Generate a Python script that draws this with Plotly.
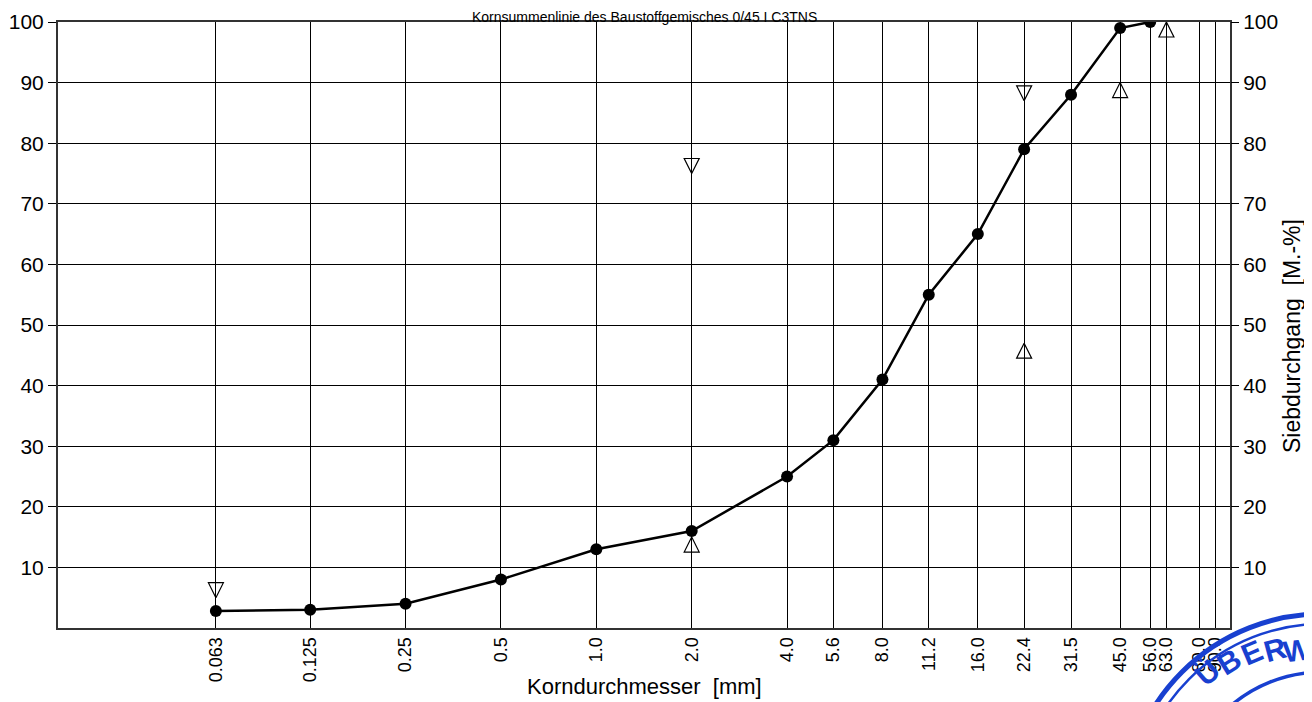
import math
import plotly.graph_objects as go

# ---- data ----
sieve_sizes = [0.063, 0.125, 0.25, 0.5, 1.0, 2.0, 4.0, 5.6, 8.0, 11.2, 16.0, 22.4, 31.5, 45.0, 56.0, 63.0, 80.0, 90.0]
sieve_labels = ["0.063", "0.125", "0.25", "0.5", "1.0", "2.0", "4.0", "5.6", "8.0", "11.2", "16.0", "22.4", "31.5", "45.0", "56.0", "63.0", "80.0", "90.0"]

curve_sizes = [0.063, 0.125, 0.25, 0.5, 1.0, 2.0, 4.0, 5.6, 8.0, 11.2, 16.0, 22.4, 31.5, 45.0, 56.0]
curve_passing = [2.8, 3.0, 4.0, 8.0, 13.0, 16.0, 25.0, 31.0, 41.0, 55.0, 65.0, 79.0, 88.0, 99.0, 100.0]

upper_limit_sizes = [0.063, 2.0, 22.4]
upper_limit_values = [5, 75, 87]
lower_limit_sizes = [2.0, 22.4, 45.0, 63.0]
lower_limit_values = [15, 47, 90, 100]

y_ticks = [10, 20, 30, 40, 50, 60, 70, 80, 90, 100]

title_text = "Kornsummenlinie des Baustoffgemisches 0/45 I C3TNS"
x_title = "Korndurchmesser  [mm]"
y_title = "Siebdurchgang  [M.-%]"

# ---- layout helpers ----
OFF = 8                      # page body margin of the html page
PAGE_W, PAGE_H = 1312, 702
W, H = PAGE_W - OFF, PAGE_H - OFF
L, R, T, B = 58, 1230, 22, 628   # plot area in page pixels

def px(x):
    return (x - L) / (R - L)

def py(y):
    return (B - y) / (B - T)

FONT = "Liberation Sans, Arial, Helvetica, sans-serif"

fig = go.Figure()

fig.add_trace(go.Scatter(
    x=curve_sizes, y=curve_passing, mode="lines+markers",
    line=dict(color="black", width=2.5),
    marker=dict(color="black", size=12, symbol="circle"),
    showlegend=False, hoverinfo="x+y"))

fig.add_trace(go.Scatter(
    x=upper_limit_sizes, y=upper_limit_values, mode="markers",
    marker=dict(symbol="arrow-down-open", size=15, color="black", line=dict(color="black", width=1.2)),
    showlegend=False))

fig.add_trace(go.Scatter(
    x=lower_limit_sizes, y=lower_limit_values, mode="markers",
    marker=dict(symbol="arrow-up-open", size=15, color="black", line=dict(color="black", width=1.2)),
    showlegend=False))

# dummy trace so the right axis is drawn
fig.add_trace(go.Scatter(x=[sieve_sizes[0]], y=[None], yaxis="y2", showlegend=False, hoverinfo="skip"))

fig.update_layout(
    width=W, height=H,
    margin=dict(l=L - OFF, r=W - (R - OFF), t=T - OFF, b=H - (B - OFF), autoexpand=False),
    paper_bgcolor="white", plot_bgcolor="white",
    font=dict(family=FONT, color="black"),
    xaxis=dict(
        type="log", range=[math.log10(0.02), math.log10(100)],
        tickmode="array", tickvals=sieve_sizes, ticktext=sieve_labels,
        tickangle=-90, ticks="", tickfont=dict(size=18, color="black"),
        showgrid=True, gridcolor="black", gridwidth=1,
        showline=True, linecolor="#333333", linewidth=2, mirror=True,
        zeroline=False, automargin=False,
    ),
    yaxis=dict(
        range=[0, 100], tickmode="array", tickvals=y_ticks,
        ticks="outside", ticklen=8, tickcolor="black", tickwidth=1,
        tickfont=dict(size=21, color="black"),
        showgrid=True, gridcolor="black", gridwidth=1,
        showline=True, linecolor="#333333", linewidth=2, mirror=True,
        zeroline=False, automargin=False,
    ),
    yaxis2=dict(
        overlaying="y", side="right", range=[0, 100],
        tickmode="array", tickvals=y_ticks,
        ticks="outside", ticklen=8, tickcolor="black", tickwidth=1,
        tickfont=dict(size=21, color="black"),
        showgrid=False, zeroline=False, showline=False, automargin=False,
    ),
)

annotations = [
    dict(text=title_text, x=0.5, y=py(OFF), xref="paper", yref="paper",
         xanchor="center", yanchor="top", showarrow=False, borderpad=0,
         font=dict(size=14, color="black", family=FONT)),
    dict(text=x_title, x=px(644), y=py(686), xref="paper", yref="paper",
         xanchor="center", yanchor="middle", showarrow=False,
         font=dict(size=22, color="black", family=FONT)),
    dict(text=y_title, x=px(1292), y=py(336), xref="paper", yref="paper",
         xanchor="center", yanchor="middle", showarrow=False, textangle=-90,
         font=dict(size=23, color="black", family=FONT)),
]

# ---- stamp decoration (bottom-right corner) ----
stamp_color = "#1840d0"
cx, cy = 1322, 812
shapes = []
for r, w in [(198, 5), (188, 2.5), (140, 3.5)]:
    shapes.append(dict(type="circle", xref="paper", yref="paper",
                       x0=px(cx - r), x1=px(cx + r), y0=py(cy + r), y1=py(cy - r),
                       line=dict(color=stamp_color, width=w)))
stamp_letters = [("Ü", 1207, 672, -41), ("B", 1229, 661, -32), ("E", 1252, 653, -23),
                 ("R", 1275, 649, -15), ("W", 1297, 650, -7)]
for ch, lx, ly, ang in stamp_letters:
    annotations.append(dict(text="<b>" + ch + "</b>", x=px(lx), y=py(ly), xref="paper", yref="paper",
                            xanchor="center", yanchor="middle", showarrow=False, textangle=ang,
                            font=dict(size=30, color=stamp_color, family=FONT)))

fig.update_layout(annotations=annotations, shapes=shapes)

fig.write_html("out.html")
